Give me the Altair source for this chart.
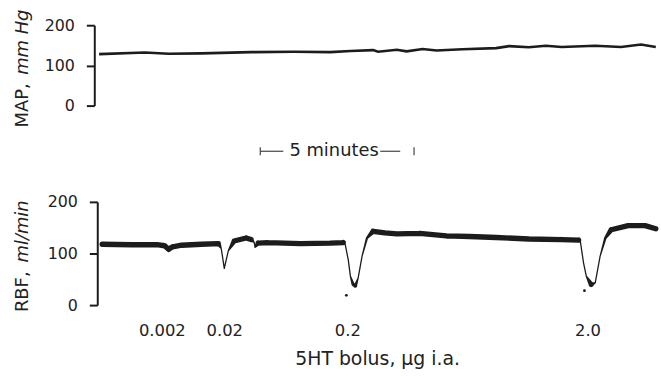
import altair as alt
import pandas as pd

# ---------------- data ----------------
# time in minutes from the start of the recording
map_time = [0.06, 1.55, 2.32, 3.39, 5.0, 6.39, 7.58, 8.23, 8.97, 9.13, 9.74, 10.06,
            10.58, 11.03, 11.87, 12.97, 13.39, 14.03, 14.58, 15.1, 16.19, 17.03, 17.68, 18.16]
map_value = [128, 132, 129, 130, 133, 134, 133, 136, 138, 134, 139, 135,
             141, 137, 140, 143, 148, 145, 149, 146, 149, 146, 152, 146]

rbf_time = [0.16, 1.13, 1.94, 2.19, 2.32, 2.45, 2.74, 3.39, 3.94, 4.03, 4.13, 4.26,
            4.45, 4.84, 5.0, 5.10, 5.13, 5.23, 5.55, 6.61, 7.58, 8.0, 8.06, 8.16,
            8.23, 8.32, 8.39, 8.48, 8.61, 8.77, 8.97, 9.35, 9.74, 10.48, 11.35, 12.10,
            12.97, 14.03, 15.10, 15.65, 15.71, 15.81, 15.90, 16.06, 16.19, 16.35, 16.52,
            16.71, 17.26, 17.81, 18.16]
rbf_value = [118, 117, 117, 115, 108, 113, 116, 118, 119, 110, 71, 105,
             124, 130, 127, 122, 112, 120, 121, 119, 120, 121, 118, 88,
             56, 40, 37, 52, 95, 130, 143, 140, 138, 139, 134, 133,
             131, 128, 127, 126, 122, 82, 56, 40, 43, 95, 130,
             146, 154, 154, 148]

dose_time = [2.10, 4.13, 8.13, 15.94]
dose_label = ["0.002", "0.02", "0.2", "2.0"]

event_time = [8.1, 15.84]
event_value = [19, 28]

y_ticks = [0, 100, 200]
x_domain = [0, 18.2]
scale_bar_start = 5.3
scale_bar_minutes = 5

FONT = "DejaVu Sans"
INK = "#1c1c1c"

# ---------------- frames ----------------
map_df = pd.DataFrame({"t": map_time, "v": map_value})
rbf_df = pd.DataFrame({"t": rbf_time, "v": rbf_value})

# trace width: thick where the pen moves slowly, thin where it sweeps fast
widths = []
n = len(rbf_time)
for i in range(n):
    slopes = []
    if i > 0:
        slopes.append(abs(rbf_value[i] - rbf_value[i - 1]) / (rbf_time[i] - rbf_time[i - 1]))
    if i < n - 1:
        slopes.append(abs(rbf_value[i + 1] - rbf_value[i]) / (rbf_time[i + 1] - rbf_time[i]))
    s = max(slopes)
    if s < 90:
        w = 5.4
    elif s > 260:
        w = 1.3
    else:
        w = 5.4 - (s - 90) / (260 - 90) * 4.1
    widths.append(w)
rbf_df["w"] = widths

event_df = pd.DataFrame({"t": event_time, "v": event_value})

xscale = alt.Scale(domain=x_domain, nice=False, zero=False)
yscale = alt.Scale(domain=[0, 200], nice=False, zero=True)

yaxis = dict(values=y_ticks, title=None, grid=False, domainColor=INK, domainWidth=2,
             tickColor=INK, tickWidth=2, tickSize=8, labelFont=FONT, labelFontSize=16,
             labelColor="#222", labelPadding=12)

# ---------------- top panel: MAP ----------------
map_line = alt.Chart(map_df).mark_line(color=INK, strokeWidth=2.6).encode(
    x=alt.X("t:Q", scale=xscale, axis=None),
    y=alt.Y("v:Q", scale=yscale, axis=alt.Axis(offset=3, **yaxis)),
)

bar_segments = pd.DataFrame({
    "a": [scale_bar_start, scale_bar_start + 3.9],
    "b": [scale_bar_start + 0.75, scale_bar_start + 4.55],
})
bar_ends = pd.DataFrame({"a": [scale_bar_start, scale_bar_start + scale_bar_minutes]})
bar_label = pd.DataFrame({"a": [scale_bar_start + scale_bar_minutes / 2 - 0.1],
                          "txt": [f"{scale_bar_minutes} minutes"]})

bar_rules = alt.Chart(bar_segments).mark_rule(color="#444", strokeWidth=1.2).encode(
    x=alt.X("a:Q", scale=xscale), x2="b:Q", y=alt.value(127))
bar_ticks = alt.Chart(bar_ends).mark_rule(color="#444", strokeWidth=1.2).encode(
    x=alt.X("a:Q", scale=xscale), y=alt.value(123), y2=alt.value(131))
bar_text = alt.Chart(bar_label).mark_text(font=FONT, fontSize=18, color="#222",
                                          baseline="middle", align="center").encode(
    x=alt.X("a:Q", scale=xscale), y=alt.value(127), text="txt:N")

map_t1 = alt.Chart(pd.DataFrame({"txt": ["MAP,"]})).mark_text(
    angle=270, align="left", baseline="middle", font=FONT, fontSize=18, color="#222").encode(
    text="txt:N", x=alt.value(-75), y=alt.value(103))
map_t2 = alt.Chart(pd.DataFrame({"txt": ["mm Hg"]})).mark_text(
    angle=270, align="left", baseline="middle", font=FONT, fontSize=18, fontStyle="italic",
    color="#222").encode(text="txt:N", x=alt.value(-75), y=alt.value(50))

top = alt.layer(map_line, bar_rules, bar_ticks, bar_text, map_t1, map_t2).properties(
    width=564, height=81)

# ---------------- bottom panel: RBF ----------------
label_expr = ("[" + ",".join(f"'{s}'" for s in dose_label) + "][indexof(["
              + ",".join(str(v) for v in dose_time) + "], datum.value)]")

rbf_trail = alt.Chart(rbf_df).mark_trail(color=INK).encode(
    x=alt.X("t:Q", scale=xscale,
            axis=alt.Axis(values=dose_time, labelExpr=label_expr, domain=False, ticks=False,
                          grid=False, labelFont=FONT, labelFontSize=16.5, labelColor="#222",
                          labelPadding=18, title="5HT bolus, µg i.a.", titleFont=FONT,
                          titleFontSize=19, titleFontWeight="normal", titleColor="#222",
                          titlePadding=10)),
    y=alt.Y("v:Q", scale=yscale, axis=alt.Axis(**yaxis)),
    size=alt.Size("w:Q", scale=None, legend=None),
)
events = alt.Chart(event_df).mark_circle(color=INK, size=8, opacity=1).encode(
    x=alt.X("t:Q", scale=xscale), y=alt.Y("v:Q", scale=yscale))

rbf_t1 = alt.Chart(pd.DataFrame({"txt": ["RBF,"]})).mark_text(
    angle=270, align="left", baseline="middle", font=FONT, fontSize=18, color="#222").encode(
    text="txt:N", x=alt.value(-75), y=alt.value(111))
rbf_t2 = alt.Chart(pd.DataFrame({"txt": ["ml/min"]})).mark_text(
    angle=270, align="left", baseline="middle", font=FONT, fontSize=18, fontStyle="italic",
    color="#222").encode(text="txt:N", x=alt.value(-75), y=alt.value(61))

bottom = alt.layer(rbf_trail, events, rbf_t1, rbf_t2).properties(width=564, height=104)

chart = alt.vconcat(top, bottom, spacing=97, bounds="flush").properties(
    padding={"left": 13, "top": 8, "right": 0, "bottom": 2},
    background="white",
).configure_view(stroke=None)

chart.save("out.html", embed_options={"renderer": "svg", "actions": False})
